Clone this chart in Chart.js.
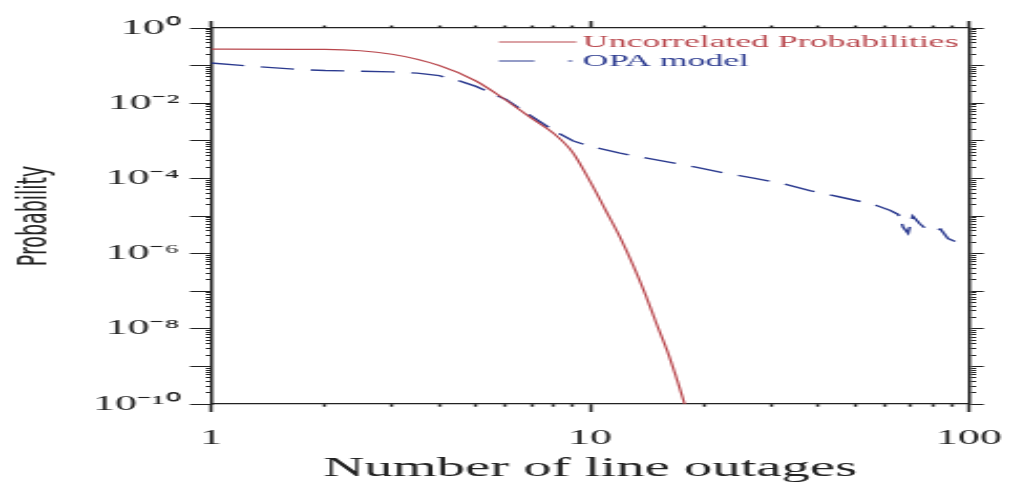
<!DOCTYPE html>
<html>
<head>
<meta charset="utf-8">
<script src="https://cdn.jsdelivr.net/npm/chart.js@4.4.1/dist/chart.umd.min.js"></script>
<style>
  html, body { margin: 0; padding: 0; background: #fff; }
</style>
</head>
<body>
<!-- the original figure is stretched sideways, so the chart is drawn narrow and shown at full width -->
<canvas id="outageChart" width="483" height="487" style="display:block;width:1014px;height:487px"></canvas>
<script>
// uncorrelated (independent failure) probabilities
const redX = [1, 2, 3, 4, 5, 6, 7, 8, 9, 10, 11, 12, 13, 14, 15, 16, 17, 18, 19];
const redY = [0.275, 0.27, 0.2, 0.1, 0.039, 0.012, 0.004, 1.6e-3, 4.9e-4, 8.3e-5,
              1.4e-5, 2.7e-6, 4.8e-7, 8.1e-8, 1.3e-8, 2.5e-9, 4.1e-10, 6.5e-11, 1e-11];

// OPA model
const blueX = [1, 1.3, 1.7, 2, 2.5, 3, 3.5, 4, 4.5, 5, 6, 7, 8, 9, 10, 12, 14, 16, 19,
               23, 27, 32, 38, 45, 52, 57, 62, 65, 67, 69, 71, 74, 77, 80, 84, 88, 93];
const blueY = [0.117, 0.095, 0.079, 0.074, 0.071, 0.068, 0.063, 0.054, 0.040, 0.028,
               0.0126, 0.0045, 0.0019, 0.001, 7.1e-4, 4.7e-4, 3.5e-4, 2.75e-4, 2.0e-4,
               1.35e-4, 1.02e-4, 7.4e-5, 4.7e-5, 3.3e-5, 2.4e-5, 1.9e-5, 1.4e-5, 1.1e-5,
               5e-6, 3.5e-6, 1e-5, 6.3e-6, 4.5e-6, 4e-6, 4.5e-6, 2.5e-6, 2e-6];

const seriesNames = ['Uncorrelated Probabilities', 'OPA model'];

const yTickValues = [1, 1e-2, 1e-4, 1e-6, 1e-8, 1e-10];
const yTickLabels = ['10\u2070', '10\u207B\u00B2', '10\u207B\u2074', '10\u207B\u2076', '10\u207B\u2078', '10\u207B\u00B9\u2070'];
const xTickValues = [1, 10, 100];
const xTickLabels = ['1', '10', '100'];

const axisColor = '#222';
const serif = "'Liberation Serif', 'Times New Roman', serif";

// 1..9 x 10^e for every decade, majors at the powers of ten
function logTicks(lo, hi) {
    const out = [];
    for (let e = lo; e <= hi; e++) {
        for (let m = 1; m <= 9; m++) {
            if (e === hi && m > 1) break;
            out.push({ value: m * Math.pow(10, e), major: m === 1 });
        }
    }
    return out;
}

function labelFor(values, labels) {
    return value => {
        const i = values.findIndex(v => Math.abs(v - value) <= v * 1e-6);
        return i >= 0 ? labels[i] : '';
    };
}

// minor ticks only keep a short stub next to the axis line
function tickDash(len, fromAxis) {
    return ctx => {
        if (ctx.tick && ctx.tick.major) return [];
        return fromAxis ? [2.5, 60] : [0, len - 2.5, 2.5, 60];
    };
}

// horizontal axes: fixed height, and no extra side room for the end labels
function fitHorizontal(h) {
    return s => {
        s.height = h;
        s.paddingLeft = 0;
        s.paddingRight = 0;
    };
}

const insideLegend = {
    id: 'insideLegend',
    afterDatasetsDraw(chart) {
        const c = chart.ctx;
        const area = chart.chartArea;
        const x0 = area.right - 224;
        c.save();
        c.font = '17px ' + serif;
        c.textBaseline = 'middle';
        chart.data.datasets.forEach((ds, i) => {
            const y = area.top + 14 + i * 19;
            c.strokeStyle = ds.borderColor;
            c.lineWidth = 1.2;
            c.setLineDash(ds.borderDash ? [17, 16, 2, 40] : []);
            c.beginPath();
            c.moveTo(x0, y);
            c.lineTo(x0 + 37, y);
            c.stroke();
            c.fillStyle = ds.borderColor;
            c.fillText(ds.label, x0 + 40, y + 1);
        });
        c.restore();
    }
};

const ctx = document.getElementById('outageChart').getContext('2d');
const outageChart = new Chart(ctx, {
    type: 'line',
    data: {
        datasets: [{
            label: seriesNames[0],
            data: redX.map((x, i) => ({ x: x, y: redY[i] })),
            borderColor: '#b8464c',
            borderWidth: 1.2,
            cubicInterpolationMode: 'monotone',
            pointRadius: 0
        }, {
            label: seriesNames[1],
            data: blueX.map((x, i) => ({ x: x, y: blueY[i] })),
            borderColor: '#2b3a8f',
            borderWidth: 1.4,
            borderDash: [16, 8],
            pointRadius: 0
        }]
    },
    options: {
        responsive: false,
        devicePixelRatio: 1,
        animation: false,
        layout: { padding: 0 },
        plugins: {
            legend: { display: false },
            tooltip: { enabled: false }
        },
        scales: {
            x: {
                type: 'logarithmic', position: 'bottom', min: 1, max: 100,
                afterBuildTicks: s => { s.ticks = logTicks(0, 2); },
                afterFit: fitHorizontal(83),
                border: { color: axisColor, width: 1.2 },
                grid: { drawOnChartArea: false, tickLength: 8, tickColor: axisColor, tickWidth: 1.5, tickBorderDash: tickDash(8, true) },
                ticks: { autoSkip: false, maxRotation: 0, padding: 14, color: axisColor, font: { family: serif, size: 21 }, callback: labelFor(xTickValues, xTickLabels) },
                title: { display: true, text: 'Number of line outages', color: axisColor, font: { family: serif, size: 27 }, padding: { top: 0, bottom: 2 } }
            },
            x2: {
                type: 'logarithmic', position: 'top', min: 1, max: 100,
                afterBuildTicks: s => { s.ticks = logTicks(0, 2); },
                afterFit: fitHorizontal(28),
                border: { color: axisColor, width: 1.2 },
                grid: { drawOnChartArea: false, tickLength: 7, tickColor: axisColor, tickWidth: 1.5, tickBorderDash: tickDash(7, false) },
                ticks: { display: false, autoSkip: false }
            },
            y: {
                type: 'logarithmic', position: 'left', min: 1e-10, max: 1,
                afterBuildTicks: s => { s.ticks = logTicks(-10, 0); },
                afterFit: s => { s.width = 100.5; },
                border: { color: axisColor, width: 1.5 },
                grid: { drawOnChartArea: false, tickLength: 10, tickColor: axisColor, tickWidth: 1, tickBorderDash: tickDash(10, false) },
                ticks: { autoSkip: false, padding: 5, color: axisColor, font: { family: serif, size: 21 }, callback: labelFor(yTickValues, yTickLabels) },
                title: { display: true, text: 'Probability', color: axisColor, font: { family: "'DejaVu Sans', sans-serif", size: 19 }, padding: { top: 6, bottom: 0 } }
            },
            y2: {
                type: 'logarithmic', position: 'right', min: 1e-10, max: 1,
                afterBuildTicks: s => { s.ticks = logTicks(-10, 0); },
                afterFit: s => { s.width = 21.4; },
                border: { color: axisColor, width: 1.5 },
                grid: { drawOnChartArea: false, tickLength: 7, tickColor: axisColor, tickWidth: 1, tickBorderDash: tickDash(7, true) },
                ticks: { display: false, autoSkip: false }
            }
        }
    },
    plugins: [insideLegend]
});
</script>
</body>
</html>
